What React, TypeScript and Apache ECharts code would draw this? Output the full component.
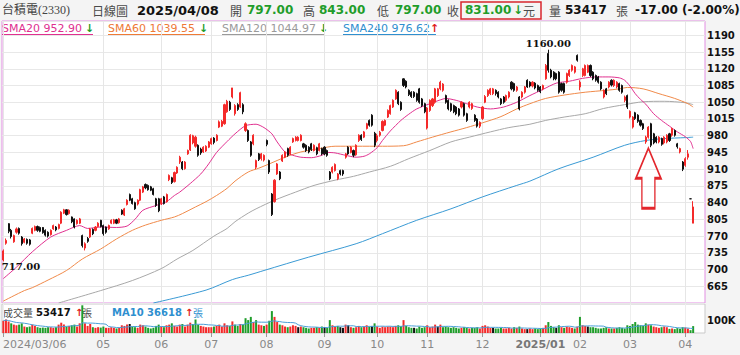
import React, { useEffect, useRef } from 'react';
import * as echarts from 'echarts';

// trading days per month
const monthDays: [string, number[]][] = [
  ['2024/03', [6, 7, 8, 11, 12, 13, 14, 15, 18, 19, 20, 21, 22, 25, 26, 27, 28, 29]],
  ['2024/04', [1, 2, 3, 8, 9, 10, 11, 12, 15, 16, 17, 18, 19, 22, 23, 24, 25, 26, 29, 30]],
  ['2024/05', [2, 3, 6, 7, 8, 9, 10, 13, 14, 15, 16, 17, 20, 21, 22, 23, 24, 27, 28, 29, 30, 31]],
  ['2024/06', [3, 4, 5, 6, 7, 11, 12, 13, 14, 17, 18, 19, 20, 21, 24, 25, 26, 27, 28]],
  ['2024/07', [1, 2, 3, 4, 5, 8, 9, 10, 11, 12, 15, 16, 17, 18, 19, 22, 23, 26, 29, 30, 31]],
  ['2024/08', [1, 2, 5, 6, 7, 8, 9, 12, 13, 14, 15, 16, 19, 20, 21, 22, 23, 26, 27, 28, 29, 30]],
  ['2024/09', [2, 3, 4, 5, 6, 9, 10, 11, 12, 13, 16, 18, 19, 20, 23, 24, 25, 26, 27, 30]],
  ['2024/10', [1, 4, 7, 8, 9, 11, 14, 15, 16, 17, 18, 21, 22, 23, 24, 25, 28, 29, 30]],
  ['2024/11', [1, 4, 5, 6, 7, 8, 11, 12, 13, 14, 15, 18, 19, 20, 21, 22, 25, 26, 27, 28, 29]],
  ['2024/12', [2, 3, 4, 5, 6, 9, 10, 11, 12, 13, 16, 17, 18, 19, 20, 23, 24, 25, 26, 27, 30, 31]],
  ['2025/01', [2, 3, 6, 7, 8, 9, 10, 13, 14, 15, 16, 17, 20, 21, 22]],
  ['2025/02', [3, 4, 5, 6, 7, 10, 11, 12, 13, 14, 17, 18, 19, 20, 21, 24, 25, 26, 27]],
  ['2025/03', [3, 4, 5, 6, 7, 10, 11, 12, 13, 14, 17, 18, 19, 20, 21, 24, 25, 26, 27, 28, 31]],
  ['2025/04', [1, 2, 7, 8]],
];
const dates: string[] = monthDays.flatMap(([m, ds]) => ds.map((d) => `${m}/${String(d).padStart(2, '0')}`));
const padSlots = ['', ' ', '  ', '   '];

const tickDates = ['2024/03/06', '2024/05/02', '2024/06/03', '2024/07/01', '2024/08/01', '2024/09/02', '2024/10/01', '2024/11/01', '2024/12/02', '2025/01/02', '2025/02/03', '2025/03/03', '2025/04/01'];
const tickTexts = ['2024/03/06', '05', '06', '07', '08', '09', '10', '11', '12', '2025/01', '02', '03', '04'];

// [open, close, low, high]
const ohlc: number[][] = [
  [720,739,717,742],[755,761,752,765],[796,780,776,797],[782,769,765,785],[758,771,756,773],[778,785,775,788],[786,776,773,788],[768,754,750,770],[757,764,755,766],[763,755,752,765],
  [762,753,750,764],[776,786,774,788],[782,790,780,792],[790,782,779,792],[788,780,778,790],[788,777,775,789],[782,772,769,784],[778,770,767,780],[773,782,771,784],[785,792,783,794],
  [789,783,780,791],[786,794,784,796],[797,820,795,822],[818,825,816,827],[825,815,813,826],[817,824,815,826],[810,800,797,811],[806,789,786,807],[796,803,794,805],[797,806,795,808],
  [771,750,746,773],[745,754,740,757],[765,759,756,768],[768,785,766,787],[784,775,772,786],[782,789,780,791],[790,797,788,799],[803,790,788,804],[792,775,771,794],[789,778,775,790],
  [785,792,783,794],[797,803,795,805],[797,804,795,806],[804,797,795,806],[798,806,796,808],[824,816,814,826],[814,827,812,829],[836,845,834,847],[857,845,843,859],[848,838,836,850],
  [840,827,825,842],[837,845,834,847],[845,867,843,869],[862,873,860,875],[878,871,868,880],[876,867,865,878],[873,866,864,875],[869,857,855,871],[848,834,831,850],[848,823,820,850],
  [838,848,835,850],[852,838,836,854],[842,857,840,859],[888,897,885,899],[892,882,879,894],[884,903,882,905],[902,914,900,916],[925,935,921,938],[925,911,908,927],[911,925,909,927],
  [942,949,940,951],[950,981,948,983],[965,980,962,982],[958,977,955,980],[960,939,936,962],[952,944,940,955],[946,956,944,958],[948,958,946,960],[956,967,954,969],[963,974,961,976],
  [975,966,962,977],[970,981,968,983],[998,1009,996,1012],[1000,1010,998,1013],[1005,1045,1003,1047],[1030,1052,1028,1055],[1050,1035,1032,1053],[1061,1080,1058,1080],[1026,1043,1022,1046],[1045,1035,1032,1048],
  [1040,1070,1038,1072],[1045,1030,1025,1048],[991,1005,988,1008],[991,970,967,993],[967,939,936,969],[963,981,960,983],[914,928,910,930],[942,930,927,944],[932,942,928,944],[929,939,926,941],
  [970,962,958,972],[928,904,900,930],[858,815,812,860],[842,887,840,889],[900,921,898,923],[904,890,887,906],[927,939,925,941],[935,946,933,948],[953,939,936,955],[942,956,940,958],
  [967,974,965,976],[970,977,968,979],[970,977,968,979],[970,981,968,983],[963,956,953,965],[960,949,946,962],[956,946,943,958],[963,951,948,965],[949,960,947,962],[955,942,939,957],
  [949,963,947,965],[953,942,939,955],[956,942,939,958],[949,939,936,951],[904,890,887,906],[904,914,901,916],[907,920,905,922],[890,900,887,902],[907,900,897,909],[907,900,896,909],
  [935,942,932,944],[956,942,940,958],[945,956,943,958],[949,939,935,951],[940,960,938,962],[970,981,967,983],[981,972,969,983],[977,988,975,990],[995,1005,993,1007],[1012,1002,999,1014],
  [1023,1002,999,1025],[985,960,956,988],[970,980,966,984],[981,987,978,990],[991,1010,989,1012],[1002,1012,1000,1014],[1019,1033,1017,1035],[1026,1043,1024,1045],[1040,1054,1038,1056],[1057,1075,1055,1077],
  [1071,1047,1044,1073],[1050,1035,1032,1052],[1099,1085,1082,1100],[1094,1082,1079,1096],[1075,1066,1063,1077],[1071,1062,1059,1073],[1071,1062,1059,1073],[1068,1054,1051,1070],[1078,1050,1047,1080],[1057,1043,1040,1059],
  [1047,1030,1027,1049],[996,1038,993,1040],[1033,1054,1030,1056],[1043,1057,1040,1059],[1050,1078,1047,1080],[1064,1078,1061,1080],[1078,1092,1075,1095],[1075,1088,1072,1090],[1064,1050,1047,1066],[1054,1036,1033,1056],
  [1047,1033,1030,1049],[1043,1030,1027,1045],[1040,1026,1023,1042],[1036,1023,1020,1038],[1040,1050,1037,1052],[1047,1023,1020,1049],[1026,1012,1009,1028],[1040,1050,1037,1052],[1037,1047,1034,1049],[1023,1012,1009,1025],
  [1015,1000,997,1017],[1000,1008,996,1010],[1016,1040,1013,1042],[1050,1062,1048,1065],[1064,1075,1061,1077],[1068,1078,1065,1080],[1068,1078,1065,1080],[1075,1068,1064,1077],[1071,1061,1058,1073],[1057,1047,1044,1059],
  [1061,1050,1047,1063],[1054,1064,1051,1066],[1061,1071,1058,1073],[1092,1078,1075,1094],[1089,1075,1072,1091],[1075,1082,1072,1084],[1061,1036,1033,1063],[1061,1071,1058,1073],[1071,1082,1068,1084],[1096,1082,1080,1098],
  [1092,1084,1081,1094],[1084,1092,1081,1094],[1090,1080,1077,1092],[1085,1075,1072,1087],[1082,1072,1069,1084],[1078,1085,1075,1087],[1099,1127,1097,1130],[1152,1117,1112,1160],[1117,1103,1100,1120],[1113,1099,1096,1115],
  [1110,1099,1096,1112],[1113,1071,1068,1115],[1089,1075,1072,1091],[1089,1071,1068,1091],[1092,1110,1089,1112],[1106,1117,1103,1119],[1117,1127,1114,1129],[1113,1124,1110,1126],[1148,1138,1135,1150],[1082,1092,1075,1096],
  [1106,1120,1103,1122],[1106,1127,1104,1129],[1113,1127,1111,1129],[1127,1106,1103,1129],[1113,1099,1096,1115],[1106,1096,1093,1108],[1103,1092,1089,1105],[1092,1078,1075,1094],[1061,1075,1058,1077],[1078,1068,1065,1080],
  [1082,1092,1079,1094],[1096,1086,1083,1098],[1085,1096,1082,1098],[1082,1092,1079,1094],[1089,1075,1072,1091],[1085,1071,1068,1087],[1054,1061,1050,1064],[1064,1040,1036,1066],[1019,1031,1016,1033],[998,1019,995,1021],
  [1028,1016,1013,1030],[1023,1010,1007,1025],[1012,1002,999,1014],[1005,995,992,1007],[967,977,963,980],[977,998,974,1000],[1005,960,956,1007],[984,965,962,986],[977,967,964,979],[967,977,964,979],
  [974,962,959,976],[965,977,962,979],[967,981,964,983],[984,970,967,986],[981,995,978,997],[991,981,978,993],[963,957,953,965],[946,953,943,955],[925,910,906,927],[918,932,915,935],
  [935,942,930,950],[848,848,848,848],[797,831,797,843],
];

// volume in thousand lots (張), by month
const volMar24 = [95,105,90,75,65,60,65,75,50,45,50,65,55,45,40,42,40,45];
const volApr24 = [45,40,45,65,80,65,50,55,60,65,50,75,215,75,55,70,45,40,45,42];
const volMay24 = [50,40,40,45,40,35,40,60,55,65,70,50,45,40,65,60,50,40,35,40,55,65];
const volJun24 = [50,45,60,65,75,55,50,65,70,50,65,80,70,105,65,55,50,45,45];
const volJul24 = [45,50,55,65,50,75,60,55,90,65,55,70,65,115,100,125,85,100,65,60,55];
const volAug24 = [65,95,170,125,85,65,60,50,45,50,60,55,45,50,45,40,35,40,40,45,40,50];
const volSep24 = [45,40,100,60,50,55,45,40,65,60,45,40,45,55,45,50,60,50,55,75];
const volOct24 = [50,40,50,45,50,50,45,55,60,55,100,55,45,40,40,35,50,40,45];
const volNov24 = [60,45,50,65,50,65,45,50,45,40,45,40,35,40,45,40,35,40,40,45,35];
const volDec24 = [55,60,50,40,40,35,35,40,35,35,40,35,45,40,50,35,30,30,35,30,35,30];
const volJan25 = [35,40,60,85,55,45,40,60,45,40,50,45,40,35,50];
const volFeb25 = [125,60,55,50,45,45,40,35,35,40,45,35,35,35,40,45,40,35,60];
const volMar25 = [55,70,85,65,60,55,75,65,60,50,45,40,45,50,45,32,35,30,38,33,45];
const volApr25 = [42,35,22,53.417];
const volumeK = [...volMar24, ...volApr24, ...volMay24, ...volJun24, ...volJul24, ...volAug24, ...volSep24, ...volOct24, ...volNov24, ...volDec24, ...volJan25, ...volFeb25, ...volMar25, ...volApr25];

// moving averages: [dayIndex, value]
const sma20: number[][] = [[0,681],[5,705],[11,737],[18,768],[24,782],[29,792],[32,786],[37,789],[43,788],[47,791],[50,805],[53,824],[58,834],[62,842],[65,855],[67,862],[71,880],[75,900],[78,921],[81,945],[85,968],[88,984],[92,1001],[96,1004],[99,997],[102,984],[104,967],[107,946],[110,939],[113,935],[117,934],[121,939],[123,945],[126,944],[130,939],[134,935],[137,937],[139,942],[142,955],[144,970],[147,990],[151,1012],[154,1025],[157,1036],[162,1047],[166,1055],[168,1058],[172,1054],[176,1047],[180,1040],[185,1036],[190,1040],[195,1050],[200,1064],[205,1077],[210,1090],[215,1094],[220,1100],[225,1103],[230,1103],[234,1101],[236,1096],[238,1084],[240,1068],[242,1056],[244,1046],[247,1026],[250,1012],[253,1000],[256,988],[259,978],[261,968],[262,953]];
const sma60: number[][] = [[0,634],[8,656],[11,662],[17,678],[24,698],[30,722],[37,743],[43,764],[49,782],[54,793],[60,803],[65,810],[68,817],[73,831],[77,842],[81,855],[85,870],[88,885],[93,904],[97,912],[101,921],[107,935],[113,946],[120,953],[126,958],[134,958],[144,958],[152,959],[157,967],[163,977],[170,988],[176,997],[182,1007],[189,1020],[195,1036],[200,1047],[206,1058],[213,1065],[221,1071],[229,1075],[234,1078],[237,1081],[243,1078],[249,1068],[255,1058],[260,1047],[262,1040]];
const sma120: number[][] = [[21,630],[37,656],[49,677],[60,702],[66,722],[72,740],[80,770],[85,786],[88,800],[93,818],[96,827],[103,845],[111,862],[118,876],[126,887],[133,895],[139,904],[147,916],[154,932],[162,949],[170,967],[177,977],[185,988],[192,997],[200,1004],[206,1012],[213,1019],[221,1026],[228,1037],[236,1045],[243,1051],[251,1052],[259,1049],[262,1045]];
const sma240: number[][] = [[57,630],[77,657],[87,679],[93,688],[99,698],[116,726],[134,754],[144,775],[157,803],[170,827],[182,852],[195,876],[200,885],[211,911],[224,935],[236,960],[244,970],[251,974],[259,976],[262,977]];

const UP = '#f42a2a';
const DOWN = '#111111';
const GREEN = '#1f9d2a';
const C20 = '#e0308f';
const C60 = '#f08a4a';
const C120 = '#a8a8a8';
const C240 = '#3a9ad4';
const CJK = '"Noto Sans CJK TC", sans-serif';
const SANS = '"DejaVu Sans", Verdana, sans-serif';

export default function App() {
  const ref = useRef<HTMLDivElement>(null);
  useEffect(() => {
    const chart = echarts.init(ref.current!, null, { renderer: 'svg' });
    const cats = [...dates, ...padSlots];
    const tickIdx = new Map<number, string>();
    tickDates.forEach((d, k) => tickIdx.set(dates.indexOf(d), tickTexts[k]));
    const isTick = (i: number) => tickIdx.has(i);

    const volColors = ohlc.map((d, i) => {
      if (i === 0) return d[1] >= d[0] ? UP : GREEN;
      const prev = ohlc[i - 1][1];
      return d[1] > prev ? UP : d[1] < prev ? GREEN : DOWN;
    });
    const volMA10 = volumeK.map((_, i) => {
      const s = volumeK.slice(Math.max(0, i - 9), i + 1);
      return [i, s.reduce((a, b) => a + b, 0) / s.length];
    });

    const txt = (x: number, y: number, text: string, style: any) => ({
      type: 'text', x, y, silent: true,
      style: { text, verticalAlign: 'middle', align: 'left', ...style },
    });
    const cjk = (x: number, y: number, text: string, size = 12, fill = '#4a4a4a') => txt(x, y, text, { font: `${size}px ${CJK}`, fill });
    const bold = (x: number, y: number, text: string, fill: string, size = 12) => txt(x, y, text, { font: `bold ${size}px ${SANS}`, fill });
    const legend = (x: number, text: string, color: string, arrow: string, arrowColor: string, arrowX: number, endX: number) => [
      txt(x, 28, text, { font: `11px ${SANS}`, fill: color }),
      txt(arrowX, 28, arrow, { font: `bold 11px ${SANS}`, fill: arrowColor }),
      { type: 'line', silent: true, shape: { x1: x, y1: 34.5, x2: endX, y2: 34.5 }, style: { stroke: color, lineWidth: 1 } },
    ];

    const graphic: any[] = [
      txt(2, 10, '台積電(2330)', { font: `12px "Liberation Serif", ${CJK}`, fill: '#444' }),
      cjk(92, 10, '日線圖'),
      bold(137, 10, '2025/04/08', '#111', 13),
      cjk(230, 10, '開'), bold(247, 10, '797.00', GREEN),
      cjk(303, 10, '高'), bold(319, 10, '843.00', GREEN),
      cjk(377, 10, '低'), bold(395, 10, '797.00', GREEN),
      cjk(447, 10, '收'),
      { type: 'rect', silent: true, shape: { x: 461, y: 2, width: 80, height: 17 }, style: { fill: 'none', stroke: '#d8262c', lineWidth: 1.5 } },
      bold(465, 10, '831.00', GREEN), bold(513, 10, '↓', GREEN), cjk(523, 10, '元'),
      cjk(549, 10, '量'), bold(565, 10, '53417', '#111'), cjk(616, 10, '張'),
      bold(635, 10, '-17.00 (-2.00%)', '#111'),
      ...legend(2, 'SMA20 952.90', C20, '↓', GREEN, 85, 93),
      ...legend(108, 'SMA60 1039.55', '#ee7a36', '↓', GREEN, 199, 205),
      ...legend(222, 'SMA120 1044.97', '#9a9a9a', '↓', GREEN, 319, 325),
      ...legend(343, 'SMA240 976.62', '#2f8fcf', '↑', '#e02020', 430, 436),
      cjk(3, 312, '成交量', 10), bold(36, 312, '53417', '#111', 10), bold(75, 312, '↑', '#e02020', 10), cjk(82, 312, '張', 10),
      bold(112, 312, 'MA10 36618', '#2f8fcf', 10), bold(185, 312, '↑', '#e02020', 10), cjk(193, 312, '張', 10, '#2f8fcf'),
    ];

    const maLine = (data: number[][], color: string, smooth: number) => ({
      type: 'line', xAxisIndex: 0, yAxisIndex: 0, data, showSymbol: false, smooth, clip: true,
      lineStyle: { color, width: 1 }, silent: true, z: 3,
    });

    const option: any = {
      animation: false,
      backgroundColor: '#f4f4f4',
      textStyle: { fontFamily: SANS },
      grid: [
        { left: 2, top: 21, width: 703, height: 282, show: true, backgroundColor: '#fff', borderColor: '#e28fe2', borderWidth: 1 },
        { left: 2, top: 304, width: 703, height: 29, show: true, backgroundColor: '#fff', borderColor: '#c9c9c9', borderWidth: 1 },
      ],
      xAxis: [
        {
          type: 'category', gridIndex: 0, data: cats, boundaryGap: true,
          axisLine: { show: false }, axisTick: { show: false }, axisLabel: { show: false },
          splitLine: { show: true, interval: (i: number) => isTick(i), alignWithLabel: true, lineStyle: { color: '#e6e6e6' } },
        },
        {
          type: 'category', gridIndex: 1, data: cats, boundaryGap: true,
          axisLine: { show: false },
          axisTick: { show: true, alignWithLabel: true, interval: (i: number) => isTick(i), length: 4, lineStyle: { color: '#999' } },
          splitLine: { show: true, interval: (i: number) => isTick(i), alignWithLabel: true, lineStyle: { color: '#eeeeee' } },
          axisLabel: {
            show: true, interval: (i: number) => isTick(i), margin: 6, color: '#888', fontSize: 11, fontFamily: SANS,
            formatter: (_v: string, i: number) => {
              const t = tickIdx.get(i) || '';
              if (i === 0) return `{first|${t}}`;
              if (t === '2025/01') return `{yr|${t}}`;
              return t;
            },
            rich: {
              first: { color: '#888', fontSize: 11, fontFamily: SANS, padding: [0, 0, 0, 63] },
              yr: { color: '#777', fontSize: 11, fontWeight: 'bold', fontFamily: SANS },
            },
          },
        },
      ],
      yAxis: [
        {
          type: 'value', gridIndex: 0, position: 'right', min: 630, max: 1220, interval: 35,
          axisLine: { show: false }, axisTick: { show: false },
          axisLabel: {
            margin: 2, color: '#111', fontSize: 10, fontWeight: 'bold', fontFamily: SANS,
            formatter: (v: number) => (v >= 665 && v <= 1190 && v % 35 === 0 ? String(v) : ''),
          },
          splitLine: { show: true, lineStyle: { color: '#e8e8e8' } },
        },
        {
          type: 'value', gridIndex: 1, position: 'right', min: 0, max: 225, interval: 100,
          axisLine: { show: false }, axisTick: { show: false },
          axisLabel: { margin: 2, color: '#111', fontSize: 10, fontWeight: 'bold', fontFamily: SANS, formatter: (v: number) => (v === 100 ? '100K' : '') },
          splitLine: { show: false },
        },
      ],
      series: [
        maLine(sma240, C240, 0.3),
        maLine(sma120, C120, 0.3),
        maLine(sma60, C60, 0.3),
        maLine(sma20, C20, 0.25),
        {
          type: 'candlestick', xAxisIndex: 0, yAxisIndex: 0, data: ohlc, barWidth: 1.6, z: 4, silent: true,
          itemStyle: { color: UP, color0: DOWN, borderColor: UP, borderColor0: DOWN, borderWidth: 1 },
          markPoint: {
            silent: true,
            data: [
              {
                coord: [207, 1160], symbol: 'circle', symbolSize: 1, itemStyle: { color: 'rgba(0,0,0,0)' },
                label: { show: true, position: 'top', distance: 1, formatter: '1160.00', color: '#111', fontSize: 10, fontWeight: 'bold', fontFamily: '"DejaVu Serif", serif' },
              },
              {
                coord: [0, 717], symbol: 'circle', symbolSize: 1, itemStyle: { color: 'rgba(0,0,0,0)' },
                label: { show: true, position: [-1, 1], align: 'left', verticalAlign: 'top', formatter: '717.00', color: '#111', fontSize: 10, fontWeight: 'bold', fontFamily: '"DejaVu Serif", serif' },
              },
              {
                coord: [245, 891], symbol: 'path://M12.5 0 L25 30 L19 30 L19 60 L6 60 L6 30 L0 30 Z', symbolSize: [25, 60], symbolKeepAspect: false,
                itemStyle: { color: 'rgba(255,255,255,0)', borderColor: '#e3262c', borderWidth: 2 }, label: { show: false },
              },
            ],
          },
        },
        {
          type: 'bar', xAxisIndex: 1, yAxisIndex: 1, barWidth: 2, silent: true,
          data: volumeK.map((v, i) => ({ value: v, itemStyle: { color: volColors[i] } })),
        },
        {
          type: 'line', xAxisIndex: 1, yAxisIndex: 1, data: volMA10, showSymbol: false, silent: true,
          lineStyle: { color: '#4a9fd8', width: 1 }, z: 3,
        },
      ],
      graphic,
    };
    chart.setOption(option);
    return () => chart.dispose();
  }, []);
  return <div ref={ref} style={{ position: 'absolute', left: 0, top: 0, width: 740, height: 355 }} />;
}
